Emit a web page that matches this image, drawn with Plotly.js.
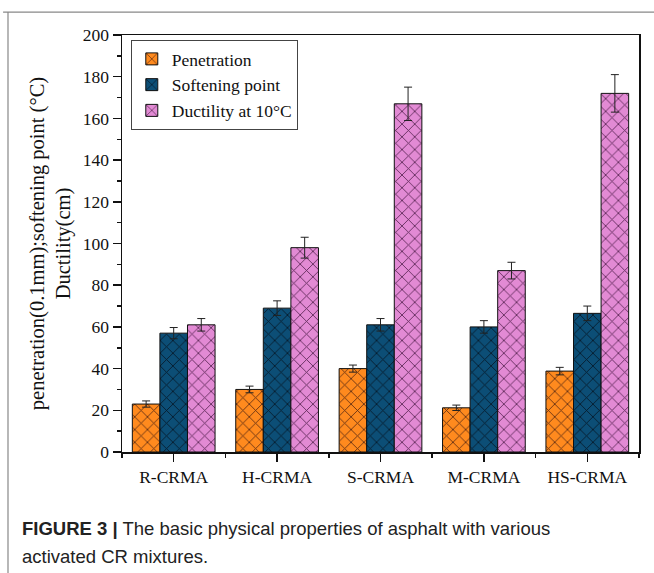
<!DOCTYPE html>
<html>
<head>
<meta charset="utf-8">
<script src="https://cdn.plot.ly/plotly-3.0.1.min.js"></script>
<style>
html,body{margin:0;padding:0;background:#fff;}
#chart{width:654px;height:573px;}
</style>
</head>
<body>
<div id="chart"></div>
<script>
const categories = ["R-CRMA", "H-CRMA", "S-CRMA", "M-CRMA", "HS-CRMA"];
const penetration = [23, 30, 40, 21.2, 38.8];
const penetrationErr = [1.5, 1.6, 1.7, 1.3, 1.8];
const softening = [57, 69, 61, 60, 66.5];
const softeningErr = [2.7, 3.5, 3, 3, 3.5];
const ductility = [61, 98, 167, 87, 172];
const ductilityErr = [3, 5, 8, 4, 9];
const seriesNames = ["Penetration", "Softening point", "Ductility at 10°C"];
const yTitle = "penetration(0.1mm);softening point (°C)<br>Ductility(cm)";
const caption1 = "<b>FIGURE 3 |</b> The basic physical properties of asphalt with various";
const caption2 = "activated CR mixtures.";

const serif = "Liberation Serif, Times New Roman, serif";
const catIndex = categories.map((_, i) => i);

function barTrace(name, y, err, color, fg) {
  return {
    type: "bar", name: name, x: catIndex, y: y,
    marker: {
      color: color,
      line: {color: "#111", width: 1},
      pattern: {shape: "x", fillmode: "overlay", bgcolor: color, fgcolor: fg, fgopacity: 0.9, size: 9, solidity: 0.18}
    },
    error_y: {type: "data", array: err, visible: true, color: "#222", thickness: 1, width: 4}
  };
}

const data = [
  barTrace(seriesNames[0], penetration, penetrationErr, "#FF8A1E", "#4a2010"),
  barTrace(seriesNames[1], softening, softeningErr, "#0C4E76", "#05121f"),
  barTrace(seriesNames[2], ductility, ductilityErr, "#E28AD4", "#4a1a45")
];

const layout = {
  width: 654, height: 573,
  margin: {l: 122, r: 15, t: 35, b: 121},
  paper_bgcolor: "#fff", plot_bgcolor: "#fff",
  barmode: "group", bargap: 0.2, bargroupgap: 0,
  font: {family: serif, size: 17, color: "#111"},
  showlegend: true,
  legend: {
    x: 0.017, y: 0.988, xanchor: "left", yanchor: "top",
    bgcolor: "#fff", bordercolor: "#444", borderwidth: 1,
    font: {family: serif, size: 17.5, color: "#111"},
    tracegroupgap: 0
  },
  xaxis: {
    type: "linear", range: [-0.5, 4.5],
    tickmode: "array", tickvals: catIndex, ticktext: categories,
    showline: true, linecolor: "#111", linewidth: 1.5, mirror: true,
    ticks: "outside", ticklen: 8, tickwidth: 1.5, tickcolor: "#111",
    minor: {tick0: 0.5, dtick: 1, ticks: "outside", ticklen: 4, tickwidth: 1.5, tickcolor: "#111", showgrid: false},
    showgrid: false, zeroline: false,
    tickfont: {family: serif, size: 17.5, color: "#111"}
  },
  yaxis: {
    range: [0, 200], dtick: 20,
    showline: true, linecolor: "#111", linewidth: 1.5, mirror: true,
    ticks: "outside", ticklen: 8, tickwidth: 1.5, tickcolor: "#111",
    minor: {dtick: 10, ticks: "outside", ticklen: 4, tickwidth: 1.5, tickcolor: "#111", showgrid: false},
    showgrid: false, zeroline: false,
    tickfont: {family: serif, size: 17.5, color: "#111"},
    title: {text: yTitle, font: {family: serif, size: 20.5, color: "#111"}, standoff: 6}
  },
  shapes: [
    {type: "line", xref: "paper", yref: "paper", x0: -0.23, x1: 1.04, y0: 1.055, y1: 1.055,
     line: {color: "#888", width: 1.2}},
    {type: "line", xref: "paper", yref: "paper", x0: -0.2205, x1: -0.2205, y0: 1.055, y1: -0.3,
     line: {color: "#888", width: 1.2}}
  ],
  annotations: [
    {text: caption1, xref: "paper", yref: "paper", x: -0.198, y: -0.183, xanchor: "left", yanchor: "middle",
     showarrow: false, font: {family: "Liberation Sans, Arial, sans-serif", size: 18.5, color: "#222"}},
    {text: caption2, xref: "paper", yref: "paper", x: -0.198, y: -0.25, xanchor: "left", yanchor: "middle",
     showarrow: false, font: {family: "Liberation Sans, Arial, sans-serif", size: 18.5, color: "#222"}}
  ]
};

Plotly.newPlot("chart", data, layout, {displayModeBar: false, staticPlot: true});
</script>
</body>
</html>
